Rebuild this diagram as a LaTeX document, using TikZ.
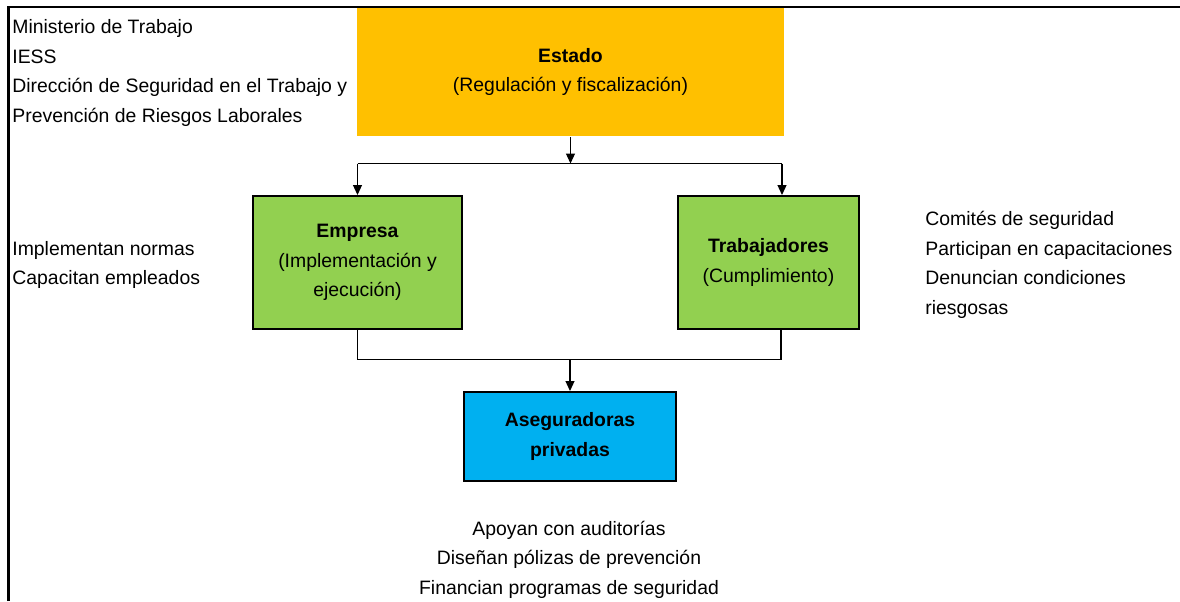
\documentclass[tikz,border=0pt]{standalone}
\usepackage{fontspec}
\setmainfont{Liberation Sans}
\usetikzlibrary{arrows.meta,positioning}
\definecolor{estadocolor}{HTML}{FFC000}
\definecolor{actorcolor}{HTML}{92D050}
\definecolor{segurocolor}{HTML}{00B0F0}

\begin{document}
\begin{tikzpicture}[x=0.5pt,y=-0.5pt]
\tikzstyle{every node}+=[inner sep=0pt,font=\fontsize{9.7pt}{14.8pt}\selectfont]
\tikzstyle{box}=[rectangle,align=center,draw=black,line width=1pt]
\tikzstyle{conn}=[black,line width=0.6pt]
\tikzstyle{arr}=[conn,-{Triangle[width=4.5pt,length=5pt]}]
\useasboundingbox (0,0) rectangle (1180,601);
\draw [black,line width=1.2pt] (8.5,601) -- (8.5,7) -- (1180,7);
\node [box,draw=none,fill=estadocolor,minimum width=213.5pt,minimum height=64pt] (estado) at (570.5,72) {\textbf{Estado}\\(Regulación y fiscalización)};
\node [box,fill=actorcolor,minimum width=104.5pt,minimum height=66.5pt] (empresa) at (357.5,262.5) {\textbf{Empresa}\\(Implementación y\\ejecución)};
\node [box,fill=actorcolor,minimum width=90.5pt,minimum height=66.5pt] (trabajadores) at (768.5,262.5) {\textbf{Trabajadores}\\(Cumplimiento)};
\node [box,fill=segurocolor,minimum width=106pt,minimum height=44.5pt] (aseguradoras) at (570,436.5) {\textbf{Aseguradoras}\\\textbf{privadas}};
\node [anchor=west,align=left] (entes) at (12,73) {Ministerio de Trabajo\\IESS\\Dirección de Seguridad en el Trabajo y\\Prevención de Riesgos Laborales};
\node [anchor=west,align=left] (tareasempresa) at (12,265) {Implementan normas\\Capacitan empleados};
\node [anchor=west,align=left] (tareastrab) at (925,265) {Comités de seguridad\\Participan en capacitaciones\\Denuncian condiciones\\riesgosas};
\node [align=center] (tareasaseg) at (569,559.5) {Apoyan con auditorías\\Diseñan pólizas de prevención\\Financian programas de seguridad};
% conectores
\coordinate (split) at (570.5,163.5);
\coordinate (splitL) at (357.5,163.5);
\coordinate (splitR) at (782,163.5);
\coordinate (merge) at (570,359.5);
\coordinate (mergeL) at (357.5,359.5);
\coordinate (mergeR) at (781,359.5);
\draw [conn] (splitL) -- (splitR);
\draw [arr] (estado) -- (split);
\draw [arr] (splitL) -- (empresa);
\draw [arr] (splitR) -- (trabajadores.north -| splitR);
\draw [conn] (empresa) -- (mergeL) -- (mergeR) -- (trabajadores.south -| mergeR);
\draw [arr] (merge) -- (aseguradoras);
\end{tikzpicture}
\end{document}
